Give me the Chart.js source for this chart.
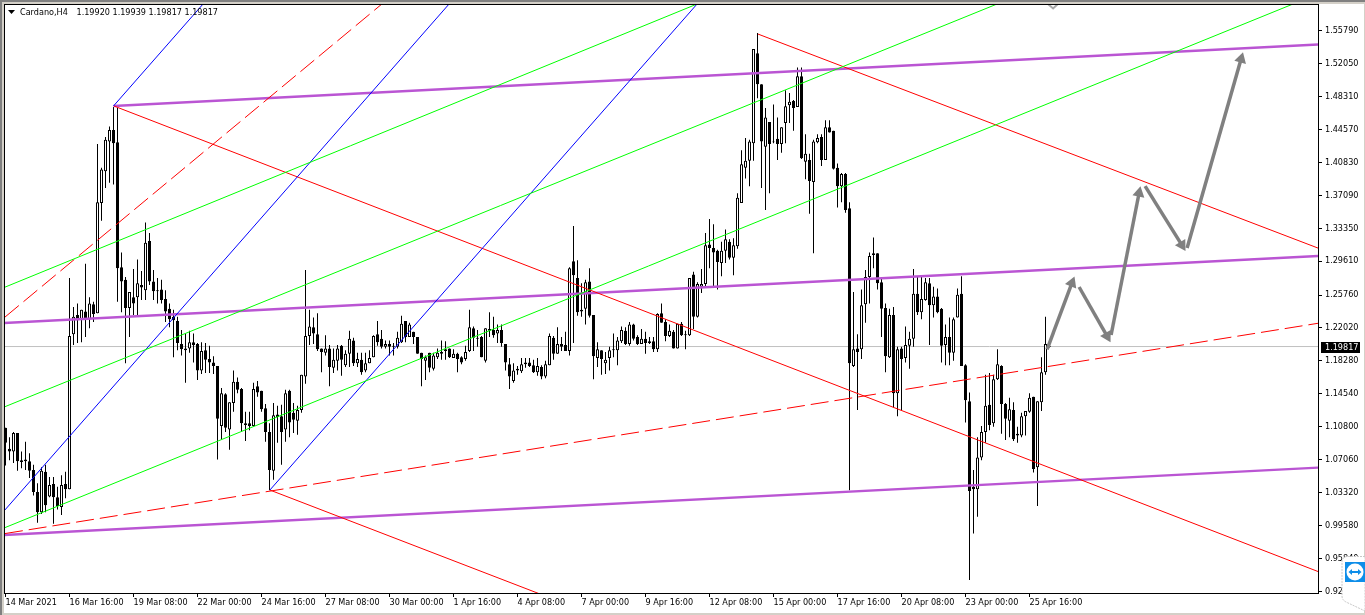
<!DOCTYPE html>
<html lang="en">
  <head>
    <meta charset="UTF-8" />
    <title>Cardano,H4</title>
    <script src="https://cdn.jsdelivr.net/npm/chart.js"></script>
    <style>
      html, body { margin: 0; padding: 0; width: 1365px; height: 615px; overflow: hidden; background: #d4d0c8; }
      #edgeTop { position: absolute; left: 0; top: 0; width: 1365px; height: 2px; background: #808080; }
      #edgeLeft { position: absolute; left: 0; top: 0; width: 2px; height: 615px; background: #808080; }
      #paper { position: absolute; left: 4px; top: 4px; width: 1360px; height: 609px; background: #fff; }
      canvas { position: absolute; left: 0; top: 0; }
      #tv { position: absolute; left: 1341px; top: 556px; }
    </style>
  </head>
  <body>
    <div id="edgeTop"></div>
    <div id="edgeLeft"></div>
    <div id="paper"></div>
    <canvas id="chart" width="1365" height="615"></canvas>
    <svg id="tv" width="24" height="56" viewBox="0 0 24 56">
      <path d="M24 0.5 H7 Q1 0.5 1 6 V40 Q1 44 5 46 L24 55 Z" fill="#fff" stroke="#c8c8c8" stroke-dasharray="2 1" />
      <rect x="4" y="6" width="20" height="20" fill="#0e8ee9" />
      <circle cx="14" cy="16" r="8.5" fill="#fff" />
      <path d="M7.5 16 L11 13 V15 H17 V13 L20.5 16 L17 19 V17 H11 V19 Z" fill="#0e8ee9" />
    </svg>

    <script>
      // candles, one entry per H4 bar
      const opens = [
        1.107,1.083,1.080,1.101,1.070,1.071,1.069,1.059,1.034,1.011,
        1.057,1.029,1.043,1.028,1.017,1.043,1.037,1.213,1.235,1.230,
        1.239,1.230,1.247,1.237,1.362,1.398,1.432,1.445,1.431,1.289,
        1.275,1.243,1.255,1.255,1.269,1.263,1.319,1.273,1.263,1.264,
        1.253,1.242,1.233,1.228,1.202,1.197,1.197,1.204,1.202,1.172,
        1.195,1.185,1.181,1.177,1.109,1.145,1.105,1.135,1.159,1.151,
        1.112,1.112,1.109,1.154,1.149,1.129,1.102,1.058,1.122,1.120,
        1.105,1.149,1.124,1.115,1.127,1.165,1.211,1.221,1.213,1.197,
        1.192,1.197,1.175,1.183,1.200,1.178,1.191,1.206,1.180,1.184,
        1.172,1.180,1.187,1.213,1.208,1.199,1.202,1.200,1.199,1.204,
        1.228,1.210,1.216,1.210,1.192,1.183,1.192,1.174,1.187,1.193,
        1.196,1.197,1.186,1.191,1.187,1.185,1.194,1.220,1.209,1.210,
        1.183,1.219,1.218,1.214,1.218,1.202,1.179,1.160,1.174,1.171,
        1.181,1.181,1.178,1.170,1.176,1.165,1.178,1.209,1.191,1.202,
        1.201,1.194,1.296,1.277,1.241,1.242,1.273,1.235,1.186,1.195,
        1.180,1.186,1.196,1.195,1.205,1.217,1.202,1.224,1.210,1.202,
        1.208,1.205,1.205,1.196,1.237,1.227,1.211,1.216,1.197,1.225,
        1.213,1.212,1.281,1.233,1.267,1.270,1.315,1.311,1.308,1.294,
        1.308,1.318,1.300,1.313,1.362,1.402,1.410,1.430,1.532,1.497,
        1.426,1.454,1.432,1.435,1.429,1.453,1.473,1.478,1.471,1.506,
        1.409,1.411,1.386,1.431,1.437,1.411,1.448,1.444,1.402,1.381,
        1.395,1.356,1.177,1.197,1.196,1.247,1.278,1.305,1.305,1.272,
        1.243,1.187,1.235,1.146,1.197,1.186,1.200,1.208,1.259,1.238,
        1.252,1.271,1.246,1.256,1.242,1.201,1.210,1.192,1.232,1.259,
        1.178,1.137,1.040,1.037,1.073,1.102,1.133,1.112,1.162,1.177,
        1.134,1.115,1.127,1.100,1.098,1.120,1.125,1.142,1.062,1.136,
        1.170,1.200
      ];
      const highs = [
        1.107,1.096,1.102,1.101,1.080,1.091,1.078,1.065,1.044,1.062,
        1.065,1.051,1.051,1.040,1.053,1.057,1.277,1.244,1.248,1.241,
        1.293,1.255,1.250,1.429,1.402,1.437,1.449,1.471,1.470,1.306,
        1.278,1.261,1.287,1.298,1.285,1.340,1.328,1.286,1.277,1.275,
        1.263,1.248,1.241,1.233,1.218,1.214,1.217,1.214,1.203,1.204,
        1.203,1.200,1.188,1.177,1.152,1.146,1.136,1.172,1.164,1.152,
        1.125,1.125,1.158,1.160,1.149,1.134,1.112,1.135,1.132,1.133,
        1.150,1.150,1.135,1.132,1.167,1.286,1.241,1.232,1.237,1.197,
        1.212,1.201,1.197,1.201,1.201,1.195,1.217,1.209,1.192,1.192,
        1.192,1.195,1.212,1.228,1.218,1.206,1.206,1.203,1.216,1.234,
        1.228,1.226,1.216,1.210,1.192,1.189,1.192,1.192,1.197,1.206,
        1.205,1.197,1.196,1.192,1.188,1.200,1.241,1.222,1.218,1.211,
        1.220,1.238,1.233,1.224,1.224,1.202,1.186,1.180,1.177,1.186,
        1.186,1.186,1.184,1.186,1.178,1.183,1.214,1.211,1.221,1.210,
        1.216,1.289,1.336,1.297,1.271,1.275,1.288,1.235,1.204,1.195,
        1.193,1.199,1.214,1.210,1.222,1.221,1.227,1.225,1.212,1.219,
        1.216,1.210,1.210,1.237,1.248,1.230,1.224,1.218,1.225,1.227,
        1.217,1.277,1.284,1.272,1.287,1.328,1.344,1.338,1.309,1.318,
        1.332,1.321,1.322,1.373,1.422,1.436,1.434,1.537,1.555,1.497,
        1.470,1.454,1.474,1.459,1.448,1.490,1.487,1.479,1.516,1.516,
        1.440,1.418,1.434,1.440,1.440,1.456,1.456,1.444,1.407,1.396,
        1.396,1.363,1.261,1.213,1.264,1.286,1.306,1.323,1.305,1.278,
        1.248,1.242,1.244,1.199,1.199,1.222,1.216,1.287,1.278,1.278,
        1.277,1.277,1.267,1.265,1.243,1.224,1.232,1.232,1.265,1.279,
        1.179,1.147,1.059,1.096,1.109,1.167,1.169,1.167,1.196,1.178,
        1.135,1.141,1.136,1.108,1.124,1.126,1.146,1.142,1.137,1.187,
        1.233,1.201
      ];
      const lows = [
        1.064,1.070,1.067,1.058,1.061,1.059,1.050,1.030,0.999,1.009,
        1.011,1.028,0.998,1.014,1.008,1.027,1.037,1.201,1.203,1.204,
        1.210,1.220,1.227,1.237,1.342,1.379,1.385,1.383,1.250,1.238,
        1.180,1.210,1.235,1.235,1.252,1.252,1.269,1.252,1.248,1.248,
        1.227,1.221,1.187,1.195,1.189,1.158,1.192,1.181,1.161,1.168,
        1.169,1.169,1.168,1.071,1.094,1.102,1.082,1.125,1.146,1.102,
        1.092,1.104,1.108,1.142,1.125,1.091,1.036,1.048,1.090,1.065,
        1.091,1.096,1.101,1.099,1.124,1.157,1.201,1.202,1.194,1.170,
        1.189,1.154,1.169,1.172,1.166,1.176,1.176,1.177,1.176,1.167,
        1.170,1.180,1.187,1.200,1.197,1.197,1.189,1.189,1.197,1.203,
        1.204,1.210,1.202,1.191,1.154,1.161,1.170,1.172,1.185,1.184,
        1.184,1.186,1.186,1.170,1.179,1.183,1.193,1.194,1.199,1.187,
        1.181,1.210,1.209,1.203,1.199,1.172,1.151,1.158,1.167,1.169,
        1.175,1.176,1.169,1.166,1.162,1.163,1.178,1.184,1.191,1.194,
        1.194,1.189,1.203,1.234,1.233,1.224,1.232,1.162,1.176,1.167,
        1.168,1.172,1.187,1.178,1.203,1.201,1.200,1.206,1.201,1.202,
        1.191,1.202,1.193,1.193,1.226,1.205,1.210,1.197,1.197,1.211,
        1.196,1.211,1.219,1.232,1.260,1.267,1.288,1.266,1.264,1.279,
        1.294,1.298,1.280,1.310,1.362,1.390,1.381,1.410,1.481,1.379,
        1.354,1.373,1.430,1.411,1.419,1.430,1.453,1.444,1.471,1.412,
        1.389,1.350,1.305,1.430,1.404,1.411,1.442,1.400,1.357,1.363,
        1.351,1.036,1.176,1.127,1.185,1.226,1.248,1.288,1.264,1.210,
        1.170,1.186,1.130,1.120,1.127,1.181,1.174,1.199,1.235,1.230,
        1.251,1.201,1.232,1.237,1.181,1.178,1.178,1.183,1.232,1.177,
        1.113,0.934,0.987,1.006,1.070,1.090,1.104,1.108,1.161,1.100,
        1.093,1.096,1.092,1.090,1.096,1.098,1.124,1.056,1.018,1.126,
        1.167,1.198
      ];
      const closes = [
        1.090,1.080,1.101,1.069,1.068,1.069,1.058,1.034,1.011,1.058,
        1.019,1.042,1.028,1.018,1.042,1.037,1.211,1.233,1.229,1.241,
        1.230,1.248,1.236,1.363,1.400,1.434,1.445,1.430,1.288,1.273,
        1.243,1.261,1.248,1.271,1.266,1.317,1.273,1.262,1.262,1.252,
        1.239,1.230,1.229,1.203,1.196,1.195,1.204,1.201,1.172,1.194,
        1.184,1.181,1.177,1.117,1.146,1.107,1.136,1.159,1.150,1.112,
        1.110,1.109,1.151,1.147,1.128,1.102,1.059,1.121,1.119,1.102,
        1.146,1.113,1.116,1.127,1.167,1.211,1.222,1.214,1.196,1.193,
        1.197,1.176,1.184,1.197,1.184,1.191,1.208,1.180,1.185,1.170,
        1.180,1.186,1.211,1.204,1.199,1.202,1.199,1.199,1.209,1.225,
        1.210,1.224,1.210,1.191,1.185,1.187,1.175,1.189,1.192,1.191,
        1.194,1.187,1.191,1.185,1.181,1.193,1.221,1.209,1.208,1.187,
        1.220,1.217,1.212,1.218,1.203,1.181,1.165,1.172,1.172,1.179,
        1.179,1.177,1.170,1.177,1.165,1.179,1.211,1.191,1.202,1.199,
        1.194,1.288,1.280,1.238,1.239,1.272,1.234,1.188,1.196,1.185,
        1.184,1.195,1.195,1.206,1.218,1.202,1.224,1.208,1.202,1.208,
        1.203,1.203,1.196,1.236,1.226,1.211,1.217,1.197,1.225,1.212,
        1.212,1.277,1.233,1.270,1.270,1.314,1.311,1.306,1.295,1.308,
        1.321,1.300,1.314,1.368,1.406,1.410,1.432,1.537,1.497,1.432,
        1.459,1.429,1.431,1.429,1.448,1.472,1.477,1.470,1.506,1.413,
        1.418,1.387,1.432,1.436,1.411,1.448,1.442,1.401,1.381,1.395,
        1.354,1.180,1.196,1.193,1.246,1.278,1.302,1.303,1.271,1.242,
        1.188,1.235,1.146,1.196,1.185,1.201,1.208,1.259,1.238,1.253,
        1.272,1.246,1.256,1.238,1.200,1.210,1.192,1.230,1.258,1.177,
        1.138,1.035,1.037,1.073,1.102,1.132,1.110,1.162,1.179,1.134,
        1.117,1.128,1.094,1.098,1.120,1.126,1.141,1.060,1.137,1.170,
        1.202,1.199
      ];

      const xTickBars = [0, 16, 32, 48, 64, 80, 96, 112, 128, 144, 160, 176, 192, 208, 224, 240, 256];
      const xTickLabels = [
        "14 Mar 2021", "16 Mar 16:00", "19 Mar 08:00", "22 Mar 00:00", "24 Mar 16:00", "27 Mar 08:00",
        "30 Mar 00:00", "1 Apr 16:00", "4 Apr 08:00", "7 Apr 00:00", "9 Apr 16:00", "12 Apr 08:00",
        "15 Apr 00:00", "17 Apr 16:00", "20 Apr 08:00", "23 Apr 00:00", "25 Apr 16:00"
      ];
      const yTicks = [
        1.5579, 1.5205, 1.4831, 1.4457, 1.4083, 1.3709, 1.3335, 1.2961, 1.2576, 1.2202,
        1.1828, 1.1454, 1.108, 1.0706, 1.0332, 0.9958, 0.9584, 0.921
      ];
      const infoLabels = ["Cardano,H4", "1.19920", "1.19939", "1.19817", "1.19817"];
      const lastPriceLabel = "1.19817";
      const priceLineLevel = 1.1991;

      // drawn objects: [bar, price, bar, price]
      const purpleLines = [
        [27, 1.4722, 328.125, 1.542],
        [-0.375, 1.2258, 328.125, 1.3019],
        [-0.375, 0.9851, 328.125, 1.0617]
      ];
      const redLines = [
        [27.1, 1.4722, 328.125, 0.9437],
        [188.1, 1.5539, 328.125, 1.3109],
        [66.1, 1.0362, 148.6, 0.892]
      ];
      const redDashLines = [
        [-0.125, 1.2326, 94.1, 1.588],
        [-0.125, 0.9868, 328.125, 1.2255]
      ];
      const greenLines = [
        [-0.375, 1.2661, 172.9, 1.588],
        [-0.375, 1.1304, 247.9, 1.588],
        [-0.375, 0.9931, 321.9, 1.588]
      ];
      const blueLines = [
        [27, 1.4722, 49.4, 1.588],
        [-0.375, 1.0124, 110.9, 1.588],
        [66.1, 1.0362, 172.9, 1.588]
      ];
      const arrows = [
        [260.4, 1.1958, 266.6, 1.2712],
        [268.4, 1.2667, 275.4, 1.211],
        [276.4, 1.2122, 283.4, 1.3734],
        [284.9, 1.3813, 294.1, 1.3143],
        [295.4, 1.3109, 308.9, 1.5255]
      ];
      const arrowAngles = [21.8, 150.5, 11.4, 148.8, 15.9];
      const clippedArrowTip = [[260.6, 1.588], [261.9, 1.583], [263.1, 1.588]];

      const bars = opens.map((o, i) => i);
      const axisFont = "'DejaVu Sans Condensed', 'Liberation Sans'";

      function segment(s, style) {
        return Object.assign(
          {
            type: "line",
            data: [{ x: s[0], y: s[1] }, { x: s[2], y: s[3] }],
            pointRadius: 0,
            tension: 0,
            order: 2
          },
          style
        );
      }

      const datasets = [
        {
          type: "line",
          data: [{ x: -0.375, y: priceLineLevel }, { x: 328.125, y: priceLineLevel }],
          borderColor: "#c0c0c0",
          borderWidth: 1,
          pointRadius: 0,
          order: 5
        },
        {
          // wicks
          type: "bar",
          data: bars.map((i) => ({ x: i, y: [lows[i], highs[i]] })),
          backgroundColor: "#000",
          barThickness: 1,
          grouped: false,
          inflateAmount: 0,
          order: 4
        },
        {
          // bodies
          type: "bar",
          data: bars.map((i) => ({ x: i, y: [opens[i], closes[i]] })),
          backgroundColor: bars.map((i) => (closes[i] >= opens[i] ? "#fff" : "#000")),
          borderColor: "#000",
          borderWidth: 1,
          borderSkipped: false,
          barThickness: 3,
          grouped: false,
          inflateAmount: 0,
          order: 3
        }
      ];

      greenLines.forEach((s) => datasets.push(segment(s, { borderColor: "#00ff00", borderWidth: 1 })));
      blueLines.forEach((s) => datasets.push(segment(s, { borderColor: "#0000ff", borderWidth: 1 })));
      redLines.forEach((s) => datasets.push(segment(s, { borderColor: "#ff0000", borderWidth: 1 })));
      redDashLines.forEach((s) =>
        datasets.push(segment(s, { borderColor: "#ff0000", borderWidth: 1, borderDash: [18, 6] }))
      );
      purpleLines.forEach((s) => datasets.push(segment(s, { borderColor: "#ba55d3", borderWidth: 2.4 })));
      arrows.forEach((s, k) =>
        datasets.push(
          segment(s, {
            borderColor: "#808080",
            borderWidth: 3.5,
            pointStyle: "triangle",
            pointRadius: [0, 7],
            pointRotation: [0, arrowAngles[k]],
            pointBackgroundColor: "#808080",
            pointBorderWidth: 0,
            order: 1
          })
        )
      );
      datasets.push({
        type: "line",
        data: clippedArrowTip.map((p) => ({ x: p[0], y: p[1] })),
        borderColor: "#a8a8a8",
        borderWidth: 2,
        pointRadius: 0,
        order: 1
      });

      // window furniture: frame, info line, last price box
      const terminalLook = {
        id: "terminalLook",
        afterDraw(chart) {
          const { ctx, chartArea: a, scales } = chart;
          ctx.save();
          ctx.strokeStyle = "#000";
          ctx.lineWidth = 1;
          ctx.strokeRect(a.left + 0.5, a.top + 0.5, a.right - a.left, a.bottom - a.top);

          ctx.font = "9px " + axisFont;
          ctx.textBaseline = "middle";
          ctx.fillStyle = "#000";
          ctx.beginPath();
          ctx.moveTo(8, 10);
          ctx.lineTo(15, 10);
          ctx.lineTo(11.5, 14);
          ctx.closePath();
          ctx.fill();
          const infoX = [20, 76.5, 112.5, 148.5, 184.5];
          infoLabels.forEach((t, k) => ctx.fillText(t, infoX[k], 13));

          const py = scales.y.getPixelForValue(priceLineLevel);
          ctx.fillStyle = "#000";
          ctx.fillRect(1321, Math.round(py) - 5, 39, 11);
          ctx.fillStyle = "#fff";
          ctx.fillText(lastPriceLabel, 1325, Math.round(py) + 1);
          ctx.restore();
        }
      };

      new Chart(document.getElementById("chart").getContext("2d"), {
        data: { datasets: datasets },
        plugins: [terminalLook],
        options: {
          responsive: false,
          animation: false,
          layout: { autoPadding: false, padding: { left: 4, top: 4, right: 0, bottom: 0 } },
          plugins: {
            legend: { display: false },
            tooltip: { enabled: false }
          },
          scales: {
            x: {
              type: "linear",
              offset: false,
              min: -0.375,
              max: 328.125,
              afterBuildTicks: (axis) => {
                axis.ticks = xTickBars.map((v) => ({ value: v }));
              },
              afterFit: (axis) => {
                axis.height = 22;
                axis.paddingLeft = 0;
                axis.paddingRight = 0;
              },
              border: { display: false },
              grid: { offset: false, drawOnChartArea: false, tickLength: 4, tickColor: "#000" },
              ticks: {
                autoSkip: false,
                maxRotation: 0,
                align: "start",
                padding: 0,
                color: "#000",
                font: { family: axisFont, size: 9 },
                callback: (v) => xTickLabels[xTickBars.indexOf(v)]
              }
            },
            y: {
              type: "linear",
              position: "right",
              min: 0.91931,
              max: 1.58799,
              afterBuildTicks: (axis) => {
                axis.ticks = yTicks.map((v) => ({ value: v }));
              },
              afterFit: (axis) => {
                axis.width = 47;
                axis.paddingTop = 0;
                axis.paddingBottom = 0;
              },
              border: { display: false },
              grid: { drawOnChartArea: false, tickLength: 4, tickColor: "#000" },
              ticks: {
                autoSkip: false,
                padding: 3,
                color: "#000",
                font: { family: axisFont, size: 9 },
                callback: (v) => v.toFixed(5)
              }
            }
          }
        }
      });
    </script>
  </body>
</html>
